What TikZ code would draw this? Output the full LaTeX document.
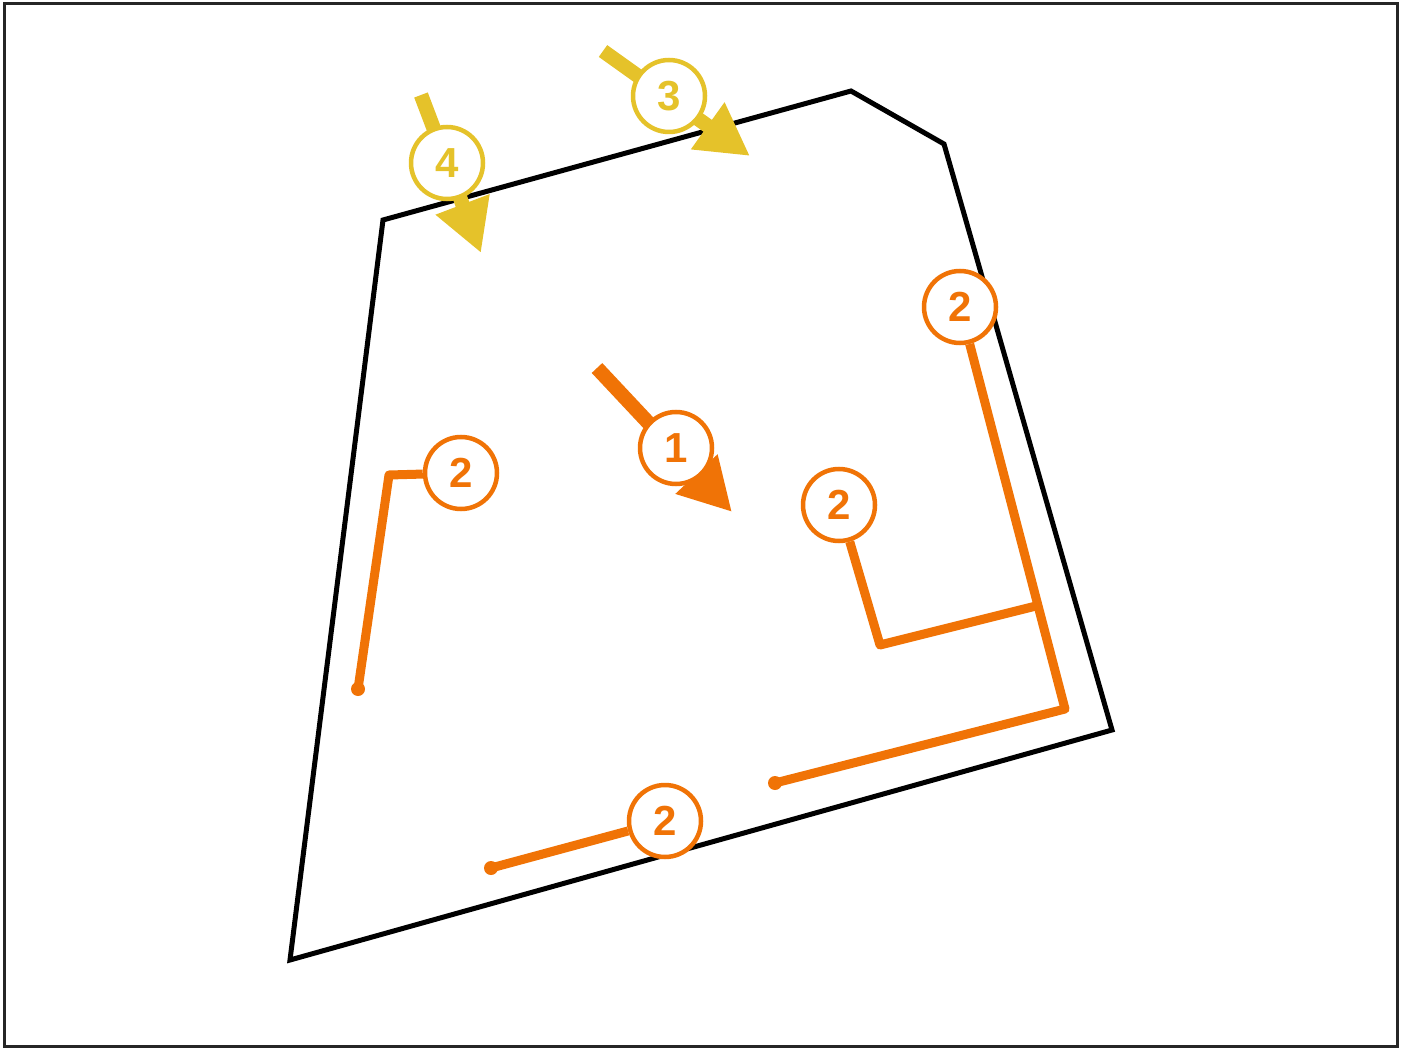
\documentclass[tikz,border=0pt]{standalone}
\usepackage{fontspec}
\setmainfont{Liberation Sans}
\usepackage{tikz}
\usetikzlibrary{arrows.meta}

\definecolor{signorange}{RGB}{240,115,6}
\definecolor{signyellow}{RGB}{229,194,42}

\begin{document}
\begin{tikzpicture}[
		  x=1pt, y=-1pt,
		  badge/.style = {shape=circle, draw=#1, text=#1, fill=white, line width=4.5pt, minimum size=72pt, inner sep=0pt, font=\fontsize{42}{42}\selectfont\bfseries},
		  ray/.style = {line width=14.5pt, draw=#1, fill=#1, -{Triangle[length=52pt,width=54pt]}},
		  lead/.style = {line width=9pt, line join=round, signorange},
		  dot/.style = {fill=signorange},
		  wall/.style = {line width=5pt, line join=miter, black}
		]

		  \useasboundingbox (0,0) rectangle (1405,1048);
		  \draw[line width=3pt, black!85] (4,4) rectangle (1397,1046);

		  \draw[wall] (383,220) -- (851,91) -- (944,144) -- (1112,730) -- (290,960) -- cycle;

		  \coordinate (t1) at (597,368);
		  \coordinate (h1) at (732,512);
		  \coordinate (t3) at (603,51);
		  \coordinate (h3) at (750,156);
		  \coordinate (t4) at (421,95);
		  \coordinate (h4) at (481,253);

		  \draw[ray=signorange] (t1) -- (h1);
		  \draw[ray=signyellow] (t3) -- (h3);
		  \draw[ray=signyellow] (t4) -- (h4);

		  \node[badge=signorange] (n1) at (676,448) {1};
		  \node[badge=signyellow] (n3) at (669,96) {3};
		  \node[badge=signyellow] (n4) at (447,163) {4};

		  \node[badge=signorange] (n2a) at (461,473) {2};
		  \node[badge=signorange] (n2b) at (960,307) {2};
		  \node[badge=signorange] (n2c) at (839,505) {2};
		  \node[badge=signorange] (n2d) at (665,821) {2};

		  \coordinate (k2a) at (389,475);
		  \coordinate (e2a) at (358,689);
		  \coordinate (k2b) at (1065,709);
		  \coordinate (e2b) at (775,783);
		  \coordinate (k2c) at (880,645);
		  \coordinate (j2c) at (1036,606);
		  \coordinate (e2d) at (491,868);

		  \draw[lead] (n2a) -- (k2a) -- (e2a);
		  \draw[lead] (n2b) -- (k2b) -- (e2b);
		  \draw[lead] (n2c) -- (k2c) -- (j2c);
		  \draw[lead] (n2d) -- (e2d);

		  \fill[dot] (e2a) circle (7pt);
		  \fill[dot] (e2b) circle (7pt);
		  \fill[dot] (e2d) circle (7pt);
		\end{tikzpicture}
\end{document}
